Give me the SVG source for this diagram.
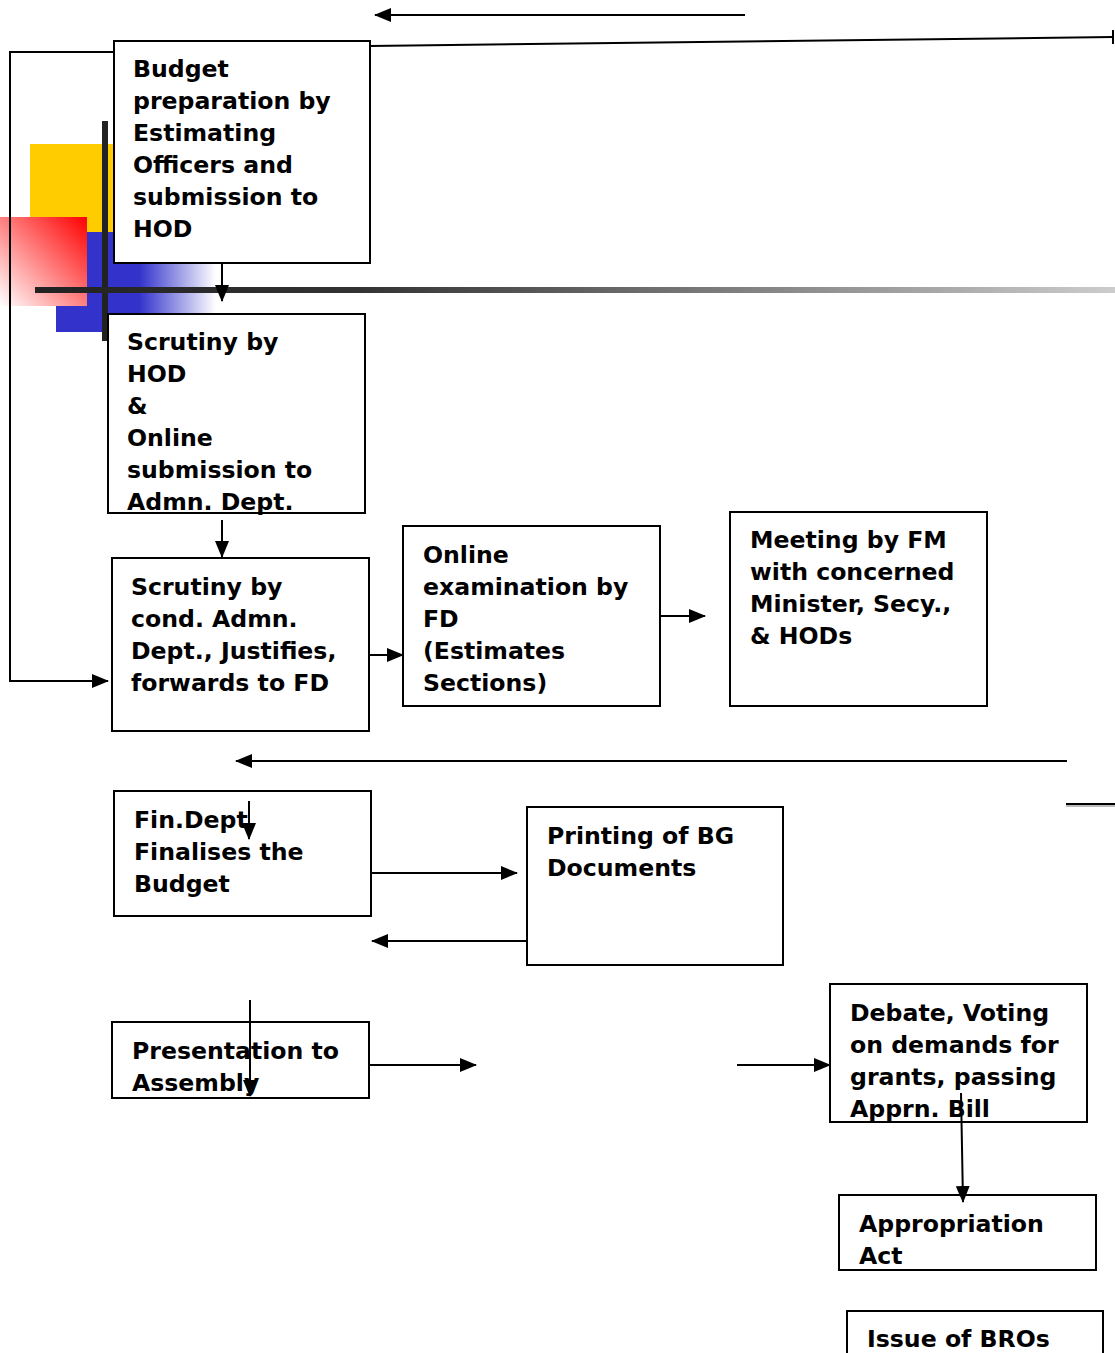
<svg xmlns="http://www.w3.org/2000/svg" width="1115" height="1353" viewBox="0 0 1115 1353">
<style>
.box{fill:#fff;stroke:#000;stroke-width:2}
.t{font-family:"DejaVu Sans",Verdana,sans-serif;font-weight:bold;font-size:23.6px;fill:#000}
.c{fill:none;stroke:#000;stroke-width:2}
</style>
<defs>
<marker id="ah" markerUnits="userSpaceOnUse" markerWidth="17" markerHeight="14" refX="16" refY="7" orient="auto">
<path d="M0,0 L17,7 L0,14 Z" fill="#000"/>
</marker>
<linearGradient id="redg" x1="1" y1="0" x2="0" y2="1">
<stop offset="0" stop-color="#ff0000"/>
<stop offset="1" stop-color="#ffffff"/>
</linearGradient>
<linearGradient id="blueg" x1="0" y1="0" x2="1" y2="0">
<stop offset="0" stop-color="#3333cc"/>
<stop offset="0.52" stop-color="#3333cc"/>
<stop offset="1" stop-color="#3333cc" stop-opacity="0"/>
</linearGradient>
<linearGradient id="barg" x1="0" y1="0" x2="1" y2="0">
<stop offset="0" stop-color="#222"/>
<stop offset="0.3" stop-color="#333"/>
<stop offset="1" stop-color="#ccc"/>
</linearGradient>
</defs>
<rect width="1115" height="1353" fill="#fff"/>
<g id="decor">
<rect x="30" y="144" width="90" height="88" fill="#ffcc00"/>
<rect x="56" y="232" width="160" height="100" fill="url(#blueg)"/>
<rect x="0" y="217" width="87" height="89" fill="url(#redg)"/>
<rect x="102" y="121" width="6" height="220" fill="#222"/>
<rect x="35" y="287" width="1080" height="6" fill="url(#barg)"/>
</g>
<g id="connectors">
<line class="c" x1="745" y1="15" x2="375" y2="15" marker-end="url(#ah)"/>
<line class="c" x1="370" y1="46" x2="1113" y2="37"/>
<line class="c" x1="1113" y1="30" x2="1113" y2="44"/>
<polyline class="c" points="114,52 10,52 10,681 108,681" marker-end="url(#ah)"/>
<line class="c" x1="222" y1="263" x2="222" y2="301" marker-end="url(#ah)"/>
<line class="c" x1="222" y1="520" x2="222" y2="557" marker-end="url(#ah)"/>
<line class="c" x1="369" y1="655" x2="403" y2="655" marker-end="url(#ah)"/>
<line class="c" x1="660" y1="616" x2="705" y2="616" marker-end="url(#ah)"/>
<line class="c" x1="1067" y1="761" x2="236" y2="761" marker-end="url(#ah)"/>
<line x1="1066" y1="806" x2="1115" y2="806" stroke="#bbb" stroke-width="2"/>
<line class="c" x1="1066" y1="804" x2="1115" y2="804"/>
<line class="c" x1="366" y1="873" x2="517" y2="873" marker-end="url(#ah)"/>
<line class="c" x1="527" y1="941" x2="372" y2="941" marker-end="url(#ah)"/>
<line class="c" x1="366" y1="1065" x2="476" y2="1065" marker-end="url(#ah)"/>
<line class="c" x1="737" y1="1065" x2="830" y2="1065" marker-end="url(#ah)"/>
</g>
<g id="n1"><rect class="box" x="114" y="41" width="256" height="222"/>
<text class="t" x="133" y="77">Budget</text><text class="t" x="133" y="109">preparation by</text><text class="t" x="133" y="141">Estimating</text><text class="t" x="133" y="173">Officers and</text><text class="t" x="133" y="205">submission to</text><text class="t" x="133" y="237">HOD</text></g>
<g id="n2"><rect class="box" x="108" y="314" width="257" height="199"/>
<text class="t" x="127" y="350">Scrutiny by</text><text class="t" x="127" y="382">HOD</text><text class="t" x="127" y="414">&amp;</text><text class="t" x="127" y="446">Online</text><text class="t" x="127" y="478">submission to</text><text class="t" x="127" y="510">Admn. Dept.</text></g>
<g id="n3"><rect class="box" x="112" y="558" width="257" height="173"/>
<text class="t" x="131" y="595">Scrutiny by</text><text class="t" x="131" y="627">cond. Admn.</text><text class="t" x="131" y="659">Dept., Justifies,</text><text class="t" x="131" y="691">forwards to FD</text></g>
<g id="n4"><rect class="box" x="403" y="526" width="257" height="180"/>
<text class="t" x="423" y="563">Online</text><text class="t" x="423" y="595">examination by</text><text class="t" x="423" y="627">FD</text><text class="t" x="423" y="659">(Estimates</text><text class="t" x="423" y="691">Sections)</text></g>
<g id="n5"><rect class="box" x="730" y="512" width="257" height="194"/>
<text class="t" x="750" y="548">Meeting by FM</text><text class="t" x="750" y="580">with concerned</text><text class="t" x="750" y="612">Minister, Secy.,</text><text class="t" x="750" y="644">&amp; HODs</text></g>
<g id="n6"><rect class="box" x="114" y="791" width="257" height="125"/>
<text class="t" x="134" y="828">Fin.Dept</text><text class="t" x="134" y="860">Finalises the</text><text class="t" x="134" y="892">Budget</text></g>
<g id="n7"><rect class="box" x="527" y="807" width="256" height="158"/>
<text class="t" x="547" y="844">Printing of BG</text><text class="t" x="547" y="876">Documents</text></g>
<g id="n8"><rect class="box" x="112" y="1022" width="257" height="76"/>
<text class="t" x="132" y="1059">Presentation to</text><text class="t" x="132" y="1091">Assembly</text></g>
<g id="n9"><rect class="box" x="830" y="984" width="257" height="138"/>
<text class="t" x="850" y="1021">Debate, Voting</text><text class="t" x="850" y="1053">on demands for</text><text class="t" x="850" y="1085">grants, passing</text><text class="t" x="850" y="1117">Apprn. Bill</text></g>
<g id="n10"><rect class="box" x="839" y="1195" width="257" height="75"/>
<text class="t" x="859" y="1232">Appropriation</text><text class="t" x="859" y="1264">Act</text></g>
<g id="n11"><rect class="box" x="847" y="1311" width="256" height="60"/>
<text class="t" x="867" y="1347">Issue of BROs</text></g>
<g id="connectors-over">
<line class="c" x1="249" y1="801" x2="249" y2="839" marker-end="url(#ah)"/>
<line class="c" x1="250" y1="1000" x2="250" y2="1096" marker-end="url(#ah)"/>
<line class="c" x1="961" y1="1093" x2="963" y2="1202" marker-end="url(#ah)"/>
</g>
</svg>
